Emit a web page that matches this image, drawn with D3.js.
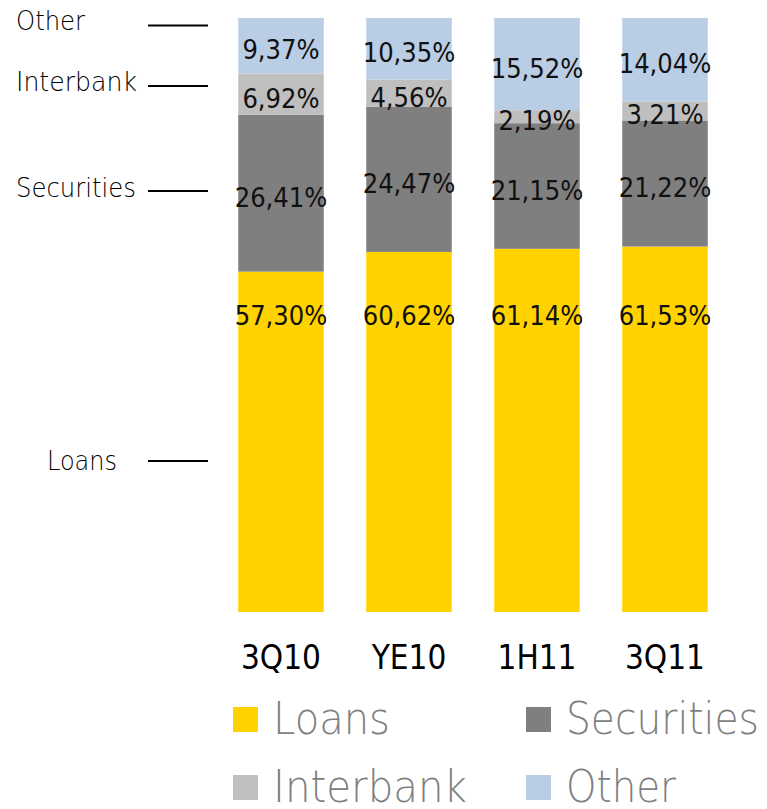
<!DOCTYPE html>
<html>
<head>
<meta charset="utf-8">
<script src="https://cdn.jsdelivr.net/npm/d3@7"></script>
<style>
  html, body { margin: 0; padding: 0; background: #fff; }
  svg { display: block; }
</style>
</head>
<body>
<svg id="chart" width="767" height="809"></svg>
<script>
// ---- data ----
const categories = ["3Q10", "YE10", "1H11", "3Q11"];
const seriesNames = ["Loans", "Securities", "Interbank", "Other"];
const loans      = [57.30, 60.62, 61.14, 61.53];
const securities = [26.41, 24.47, 21.15, 21.22];
const interbank  = [6.92, 4.56, 2.19, 3.21];
const other      = [9.37, 10.35, 15.52, 14.04];
const seriesColors = ["#FFD200", "#7F7F7F", "#BFBFBF", "#B9CDE5"];
const sideLabels = ["Other", "Interbank", "Securities", "Loans"];

// ---- build table ----
const seriesValues = [loans, securities, interbank, other];
const table = categories.map((c, i) => {
  const row = { cat: c };
  seriesNames.forEach((s, k) => row[s] = seriesValues[k][i]);
  return row;
});
const stacked = d3.stack().keys(seriesNames)(table);

const svg = d3.select("#chart");
const condensed = "'DejaVu Sans Condensed', 'DejaVu Sans', sans-serif";
const light = "'DejaVu Sans', sans-serif";

const x = d3.scaleBand().domain(categories).range([217, 729])
  .paddingInner(0.332).paddingOuter(0.166);
const y = d3.scaleLinear().domain([0, 100]).range([612, 18]);
const color = d3.scaleOrdinal().domain(seriesNames).range(seriesColors);

// bars
const groups = svg.append("g").selectAll("g").data(stacked).join("g")
  .attr("fill", d => color(d.key));
groups.selectAll("rect").data(d => d).join("rect")
  .attr("x", d => x(d.data.cat))
  .attr("y", d => y(d[1]))
  .attr("width", x.bandwidth())
  .attr("height", d => y(d[0]) - y(d[1]));

// value labels
const fmt = v => v.toFixed(2).replace(".", ",") + "%";
stacked.forEach(layer => {
  svg.append("g").selectAll("text").data(layer).join("text")
    .attr("x", d => x(d.data.cat) + x.bandwidth() / 2)
    .attr("y", d => layer.key === "Loans" ? y(50) : (y(d[0]) + y(d[1])) / 2 + 4)
    .attr("text-anchor", "middle")
    .attr("dominant-baseline", "central")
    .attr("font-family", condensed)
    .attr("font-size", 27)
    .attr("fill", "#111")
    .text(d => fmt(d[1] - d[0]));
});

// x axis labels
const xAxis = d3.axisBottom(x).tickSize(0).tickPadding(0);
const xg = svg.append("g").attr("transform", "translate(0,636)").call(xAxis);
xg.select(".domain").remove();
xg.selectAll("text")
  .attr("font-family", condensed)
  .attr("font-size", 33)
  .attr("fill", "#000")
  .attr("dy", "1.0em");

// side annotations (left of first bar)
const sideLayout = [
  { lineY: 25.5, textX: 16, textY: 20,  w: 69 },
  { lineY: 86,   textX: 16, textY: 81,  w: 121 },
  { lineY: 191,  textX: 16, textY: 187, w: 120 },
  { lineY: 461,  textX: 47, textY: 460, w: 70 }
];
const side = svg.append("g");
sideLabels.forEach((lab, i) => {
  const L = sideLayout[i];
  side.append("line")
    .attr("x1", 148).attr("x2", 208)
    .attr("y1", L.lineY).attr("y2", L.lineY)
    .attr("stroke", "#000").attr("stroke-width", 2);
  side.append("text")
    .attr("x", L.textX).attr("y", L.textY)
    .attr("dominant-baseline", "central")
    .attr("font-family", light)
    .attr("font-weight", 200)
    .attr("font-size", 27)
    .attr("textLength", L.w)
    .attr("lengthAdjust", "spacingAndGlyphs")
    .attr("fill", "#000")
    .text(lab);
});

// legend
const legendPos = [
  { x: 233, y: 707, w: 117 }, { x: 526, y: 707, w: 193 },
  { x: 233, y: 775, w: 194 }, { x: 526, y: 775, w: 110 }
];
const lg = svg.append("g");
seriesNames.forEach((s, i) => {
  const p = legendPos[i];
  lg.append("rect").attr("x", p.x).attr("y", p.y)
    .attr("width", 25).attr("height", 25).attr("fill", color(s));
  lg.append("text")
    .attr("x", p.x + 40).attr("y", p.y + 27)
    .attr("font-family", light)
    .attr("font-weight", 200)
    .attr("font-size", 44)
    .attr("textLength", p.w)
    .attr("lengthAdjust", "spacingAndGlyphs")
    .attr("fill", "#7F7F7F")
    .text(s);
});
</script>
</body>
</html>
